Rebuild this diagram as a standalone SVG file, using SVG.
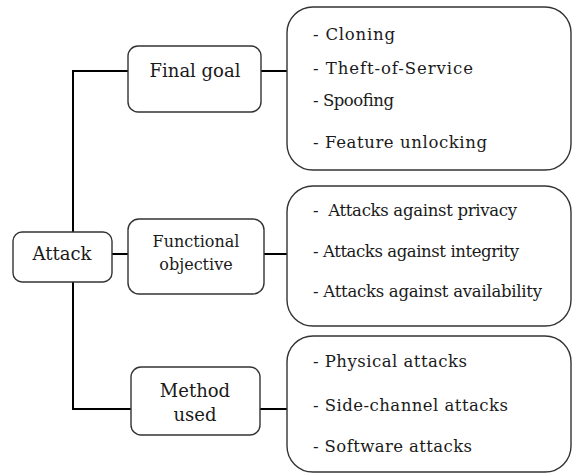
<svg xmlns="http://www.w3.org/2000/svg" width="573" height="474" viewBox="0 0 573 474">
<style>
.box{fill:#fff;stroke:#333;stroke-width:1.4}
.lbl{font-family:'DejaVu Serif','Liberation Serif',serif;font-size:18px;fill:#1a1a1a;text-anchor:middle}
.sm{font-size:16px}
.li{font-family:'DejaVu Serif','Liberation Serif',serif;font-size:16.5px;fill:#1a1a1a}
.con{fill:none;stroke:#000;stroke-width:2}
</style>
<rect width="573" height="474" fill="#fff"/>
<g id="connectors">
<path class="con" d="M73 232V71H128M261 71H287"/>
<path class="con" d="M112 254H128M264 254H287"/>
<path class="con" d="M73 282V409H131M260 409H287"/>
</g>
<g id="attack">
<rect class="box" x="13" y="232" width="99" height="50" rx="9"/>
<text class="lbl" x="62" y="260">Attack</text>
</g>
<g id="final-goal">
<rect class="box" x="128" y="46" width="133" height="66" rx="10"/>
<text class="lbl" x="195" y="77">Final goal</text>
</g>
<g id="functional-objective">
<rect class="box" x="128" y="219" width="136" height="75" rx="11"/>
<text class="lbl sm" x="196" y="247">Functional</text>
<text class="lbl sm" x="196" y="270">objective</text>
</g>
<g id="method-used">
<rect class="box" x="131" y="367" width="129" height="68" rx="10"/>
<text class="lbl" x="195" y="397">Method</text>
<text class="lbl" x="195" y="421">used</text>
</g>
<g id="goal-list">
<rect class="box" x="287" y="7" width="284" height="163" rx="26"/>
<text class="li" x="313" y="40" textLength="82" lengthAdjust="spacing">- Cloning</text>
<text class="li" x="313" y="74" textLength="160" lengthAdjust="spacing">- Theft-of-Service</text>
<text class="li" x="313" y="106" textLength="81" lengthAdjust="spacing">- Spoofing</text>
<text class="li" x="313" y="148" textLength="174" lengthAdjust="spacing">- Feature unlocking</text>
</g>
<g id="objective-list">
<rect class="box" x="287" y="186" width="284" height="140" rx="26"/>
<text class="li" x="313" y="216" textLength="204" lengthAdjust="spacing" xml:space="preserve">-  Attacks against privacy</text>
<text class="li" x="313" y="257" textLength="206" lengthAdjust="spacing">- Attacks against integrity</text>
<text class="li" x="313" y="297" textLength="229" lengthAdjust="spacing">- Attacks against availability</text>
</g>
<g id="method-list">
<rect class="box" x="287" y="336" width="284" height="136" rx="26"/>
<text class="li" x="313" y="367" textLength="154" lengthAdjust="spacing">- Physical attacks</text>
<text class="li" x="313" y="411" textLength="195" lengthAdjust="spacing">- Side-channel attacks</text>
<text class="li" x="313" y="452" textLength="159" lengthAdjust="spacing">- Software attacks</text>
</g>
</svg>
